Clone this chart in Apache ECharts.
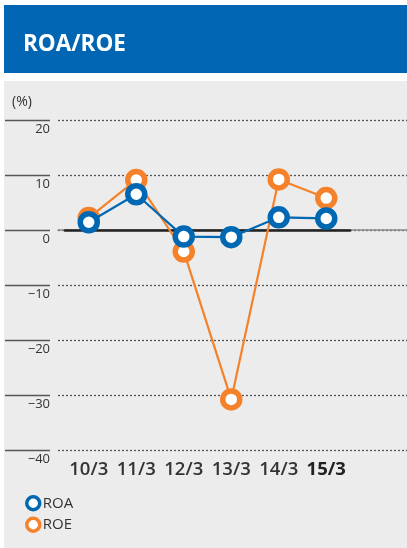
<!DOCTYPE html>
<html>
<head>
<meta charset="utf-8">
<script src="https://cdn.jsdelivr.net/npm/echarts@6/dist/echarts.min.js"></script>
<style>
  html, body { margin: 0; padding: 0; background: #fff; }
  #main { width: 407px; height: 548px; }
</style>
</head>
<body>
<div id="main"></div>
<script>
// 数据
const categories = ['10/3', '11/3', '12/3', '13/3', '14/3', '15/3']
const roaValues = [1.4, 6.5, -1.2, -1.3, 2.3, 2.1]
const roeValues = [2.2, 9.1, -3.9, -30.8, 9.2, 5.8]
const yMin = -40
const yMax = 20
const yStep = 10

const BLUE = '#0067b2'
const ORANGE = '#f5822a'
const FONT = '"Open Sans", "Noto Sans", sans-serif'

const chart = echarts.init(document.getElementById('main'))

function minusFmt(v) {
  return String(v).replace('-', '\u2212')
}

const option = {
  animation: false,
  textStyle: { fontFamily: FONT },
  graphic: [
    { type: 'rect', z: -10, shape: { x: 4, y: 5, width: 403, height: 68 }, style: { fill: '#0066b3' } },
    { type: 'rect', z: -10, shape: { x: 4, y: 81, width: 403, height: 467 }, style: { fill: '#ebeceb' } }
  ],
  title: [
    { text: 'ROA/ROE', left: 18, top: 28, textStyle: { color: '#fff', fontSize: 22.5, fontWeight: 'bold', fontFamily: FONT } },
    { text: '(%)', left: 7, top: 90, textStyle: { color: '#333', fontSize: 14, fontWeight: 'normal', fontFamily: FONT } }
  ],
  legend: {
    orient: 'vertical',
    left: 20,
    top: 490,
    itemGap: 5,
    itemWidth: 13,
    itemHeight: 13,
    icon: 'circle',
    textStyle: { color: '#333', fontSize: 15, fontFamily: FONT, padding: [0, 0, 0, -2] },
    data: [
      { name: 'ROA', itemStyle: { color: '#fff', borderColor: BLUE, borderWidth: 3.5 } },
      { name: 'ROE', itemStyle: { color: '#fff', borderColor: ORANGE, borderWidth: 3.5 } }
    ]
  },
  grid: [
    // 背景网格（点线）
    { left: 58, right: 0, top: 120, bottom: 98 },
    // 数据
    { left: 65, right: 57, top: 120, bottom: 98 },
    // 左侧实线段
    { left: 5, width: 45, top: 120, bottom: 98 }
  ],
  xAxis: [
    { gridIndex: 0, type: 'category', data: categories, show: true,
      axisLine: { onZero: true, lineStyle: { color: '#8a8a8a', width: 1.5 } },
      axisTick: { show: false }, axisLabel: { show: false } },
    { gridIndex: 1, type: 'category', data: categories,
      axisLine: { onZero: true, lineStyle: { color: '#222', width: 2.5 } },
      axisTick: { show: false }, axisLabel: { show: false } },
    { gridIndex: 1, type: 'category', data: categories, position: 'bottom',
      axisLine: { show: false, onZero: false }, axisTick: { show: false },
      axisLabel: {
        margin: 10, interval: 0,
        formatter: function (v, i) { return i === categories.length - 1 ? '{b|' + v + '}' : v },
        color: '#333', fontSize: 18.5, fontWeight: 600, fontFamily: FONT,
        rich: { b: { color: '#222', fontSize: 18.5, fontWeight: 'bold', fontFamily: FONT } }
      } },
    { gridIndex: 2, type: 'category', data: categories, show: false }
  ],
  yAxis: [
    { gridIndex: 0, type: 'value', min: yMin, max: yMax, interval: yStep,
      axisLine: { show: false }, axisTick: { show: false },
      axisLabel: { margin: 8, color: '#333', fontSize: 13, verticalAlign: 'top', padding: [3, 0, 0, 0], formatter: minusFmt },
      splitLine: { lineStyle: { color: '#555', type: [2, 2], width: 1.3 } } },
    { gridIndex: 1, type: 'value', min: yMin, max: yMax, interval: yStep, show: false, splitLine: { show: false } },
    { gridIndex: 2, type: 'value', min: yMin, max: yMax, interval: yStep,
      axisLine: { show: false }, axisTick: { show: false }, axisLabel: { show: false },
      splitLine: { lineStyle: { color: '#555', width: 1.3 } } }
  ],
  series: [
    {
      name: 'ROA', type: 'line', xAxisIndex: 2, yAxisIndex: 1, data: roaValues, z: 4,
      symbol: 'circle', symbolSize: 17,
      lineStyle: { color: BLUE, width: 2.2 },
      itemStyle: { color: '#fff', borderColor: BLUE, borderWidth: 5.5 }
    },
    {
      name: 'ROE', type: 'line', xAxisIndex: 2, yAxisIndex: 1, data: roeValues, z: 3,
      symbol: 'circle', symbolSize: 17,
      lineStyle: { color: ORANGE, width: 2.2 },
      itemStyle: { color: '#fff', borderColor: ORANGE, borderWidth: 5.5 }
    }
  ]
}

chart.setOption(option)
</script>
</body>
</html>
